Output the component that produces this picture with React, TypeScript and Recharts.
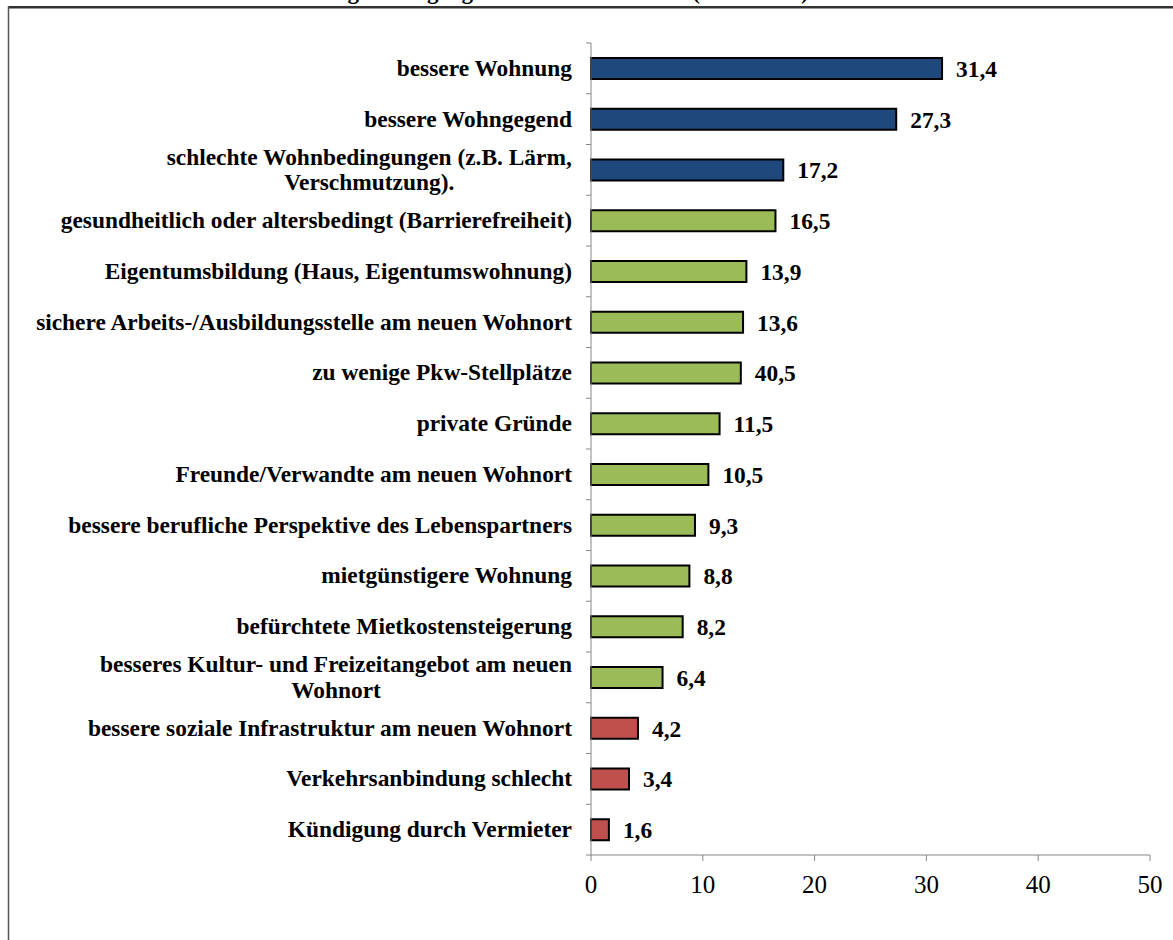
import React from 'react';
import { BarChart, Bar, XAxis, YAxis, Cell, LabelList } from 'recharts';

const categories: string[] = [
  'bessere Wohnung',
  'bessere Wohngegend',
  'schlechte Wohnbedingungen (z.B. Lärm,\nVerschmutzung).',
  'gesundheitlich oder altersbedingt (Barrierefreiheit)',
  'Eigentumsbildung (Haus, Eigentumswohnung)',
  'sichere Arbeits-/Ausbildungsstelle am neuen Wohnort',
  'zu wenige Pkw-Stellplätze',
  'private Gründe',
  'Freunde/Verwandte am neuen Wohnort',
  'bessere berufliche Perspektive des Lebenspartners',
  'mietgünstigere Wohnung',
  'befürchtete Mietkostensteigerung',
  'besseres Kultur- und Freizeitangebot am neuen\nWohnort',
  'bessere soziale Infrastruktur am neuen Wohnort',
  'Verkehrsanbindung schlecht',
  'Kündigung durch Vermieter',
];

const values: number[] = [31.4, 27.3, 17.2, 16.5, 13.9, 13.6, 13.4, 11.5, 10.5, 9.3, 8.8, 8.2, 6.4, 4.2, 3.4, 1.6];

const valueLabels: string[] = ['31,4', '27,3', '17,2', '16,5', '13,9', '13,6', '40,5', '11,5', '10,5', '9,3', '8,8', '8,2', '6,4', '4,2', '3,4', '1,6'];

const groups: string[] = ['A', 'A', 'A', 'B', 'B', 'B', 'B', 'B', 'B', 'B', 'B', 'B', 'B', 'C', 'C', 'C'];

const xTicks: number[] = [0, 10, 20, 30, 40, 50];

const titleText = 'Gründe für einen beabsichtigten Wegzug aus dem Wohnviertel (in Prozent)';

const groupColors: Record<string, string> = { A: '#1F497D', B: '#9BBB59', C: '#C0504D' };

const W = 1173;
const H = 940;
const PLOT_TOP = 43;
const PLOT_LEFT = 591;
const PLOT_RIGHT_MARGIN = 23;
const XAXIS_H = 85;
const PLOT_H = H - PLOT_TOP - XAXIS_H;
const BAND = PLOT_H / categories.length;
const FONT = "'Liberation Serif', 'Times New Roman', serif";
const FS = 23.4;
const TICK_FS = 25;
const LINE_H = 25.5;

const data = categories.map((name, i) => ({
  name,
  value: values[i],
  label: valueLabels[i],
  group: groups[i],
}));

let ctx: CanvasRenderingContext2D | null = null;
function measure(text: string): number {
  if (!ctx) {
    const c = document.createElement('canvas');
    ctx = c.getContext('2d');
  }
  if (!ctx) return text.length * 10;
  ctx.font = `bold ${FS}px ${FONT}`;
  return ctx.measureText(text).width;
}

const CatTick = (props: any) => {
  const { y, payload, index } = props;
  const lines: string[] = String(payload.value).split('\n');
  const right = PLOT_LEFT - 19;
  const n = lines.length;
  const firstBase = y + 7.5 - ((n - 1) * LINE_H) / 2;
  const blockW = Math.max(...lines.map(measure));
  const isLast = index === categories.length - 1;
  return (
    <g>
      <line x1={PLOT_LEFT - 5} x2={PLOT_LEFT} y1={y - BAND / 2} y2={y - BAND / 2} stroke="#868686" strokeWidth={1} />
      {isLast && (
        <line x1={PLOT_LEFT - 5} x2={PLOT_LEFT} y1={y + BAND / 2} y2={y + BAND / 2} stroke="#868686" strokeWidth={1} />
      )}
      {lines.map((ln, k) => (
        <text
          key={k}
          x={n === 1 ? right : right - blockW / 2}
          y={firstBase + k * LINE_H}
          textAnchor={n === 1 ? 'end' : 'middle'}
          fontFamily={FONT}
          fontWeight="bold"
          fontSize={FS}
          fill="#000"
        >
          {ln}
        </text>
      ))}
    </g>
  );
};

export default function App() {
  return (
    <div style={{ position: 'absolute', left: 0, top: 0, width: W, height: H, overflow: 'hidden', background: '#fff' }}>
      <svg width={W} height={H} style={{ position: 'absolute', left: 0, top: 0 }}>
        <text x={440} y={-1} textAnchor="middle" fontFamily={FONT} fontWeight="bold" fontSize={23} fill="#000">
          {titleText}
        </text>
        <line x1={8} x2={W} y1={7} y2={7} stroke="#333" strokeWidth={2} />
        <line x1={8} x2={W} y1={8.5} y2={8.5} stroke="#999" strokeWidth={1} />
        <line x1={8.5} x2={8.5} y1={6} y2={H} stroke="#555" strokeWidth={1.5} />
      </svg>
      <div style={{ position: 'absolute', left: 0, top: 0 }}>
        <BarChart
          width={W}
          height={H}
          data={data}
          layout="vertical"
          margin={{ top: PLOT_TOP, right: PLOT_RIGHT_MARGIN, bottom: 0, left: 0 }}
        >
          <XAxis
            type="number"
            domain={[0, 50]}
            ticks={xTicks}
            interval={0}
            height={XAXIS_H}
            axisLine={{ stroke: '#868686', strokeWidth: 1 }}
            tickLine={{ stroke: '#868686', strokeWidth: 1 }}
            tickSize={6}
            tickMargin={14}
            tick={{ fontFamily: FONT, fontSize: TICK_FS, fill: '#000' }}
          />
          <YAxis
            type="category"
            dataKey="name"
            width={PLOT_LEFT}
            interval={0}
            axisLine={{ stroke: '#868686', strokeWidth: 1 }}
            tickLine={false}
            tick={CatTick}
          />
          <Bar dataKey="value" barSize={21} stroke="#000" strokeWidth={2} isAnimationActive={false}>
            {data.map((d, i) => (
              <Cell key={i} fill={groupColors[d.group]} />
            ))}
            <LabelList
              dataKey="label"
              position="right"
              offset={14}
              style={{ fontFamily: FONT, fontWeight: 'bold', fontSize: FS, fill: '#000' }}
            />
          </Bar>
        </BarChart>
      </div>
    </div>
  );
}
